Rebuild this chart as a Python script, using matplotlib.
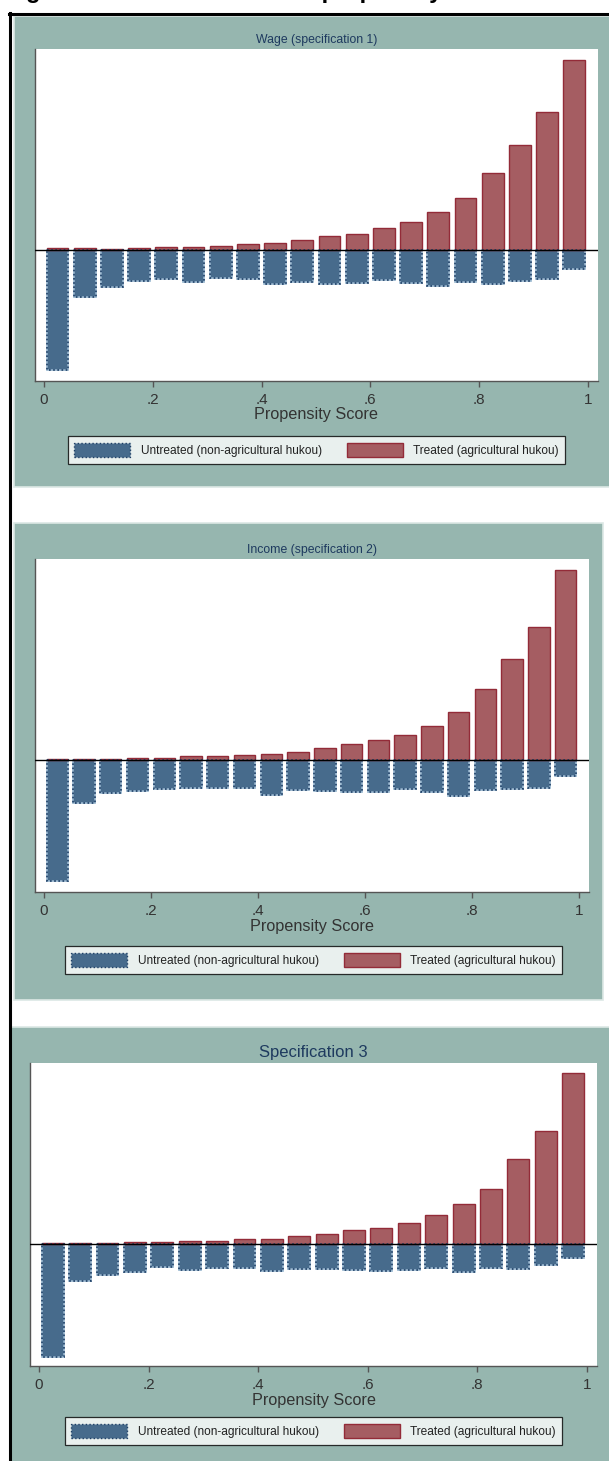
import numpy as np
import matplotlib.pyplot as plt
from matplotlib.patches import Rectangle, Patch

plt.rcParams["font.family"] = ["Liberation Sans", "DejaVu Sans"]

W, H = 609, 1461

# propensity score bins (20 bins of width .05)
score_mid = np.linspace(0.025, 0.975, 20)

# heights (arbitrary frequency units)
wage_treated = [6, 7, 5, 7, 10, 10, 13, 19, 21, 30, 42, 50, 66, 85, 116, 158, 232, 316, 415, 570]
wage_untreated = [360, 140, 109, 93, 86, 95, 83, 85, 100, 94, 100, 98, 90, 99, 108, 95, 100, 93, 85, 55]

income_treated = [5, 5, 5, 8, 6, 13, 14, 17, 20, 26, 38, 50, 60, 77, 104, 145, 214, 302, 398, 571]
income_untreated = [363, 127, 97, 93, 86, 84, 82, 84, 103, 90, 93, 96, 96, 87, 96, 106, 90, 87, 84, 46]

spec3_treated = [4, 3, 4, 5, 7, 8, 10, 14, 16, 23, 29, 41, 47, 64, 88, 119, 164, 254, 338, 512]
spec3_untreated = [338, 110, 92, 83, 68, 77, 71, 72, 80, 75, 76, 79, 80, 77, 71, 84, 71, 74, 64, 42]

titles = ["Wage (specification 1)", "Income (specification 2)", "Specification 3"]
legend_labels = ["Untreated (non-agricultural hukou)", "Treated (agricultural hukou)"]
xtick_vals = [0, 0.2, 0.4, 0.6, 0.8, 1]
xtick_labels = ["0", ".2", ".4", ".6", ".8", "1"]

TEAL = "#96B6AF"
BLUE = "#476B8C"
BLUE_EDGE = "#1E3F66"
BLUE_LIGHT = "#93B3CC"
RED = "#A55D62"
RED_EDGE = "#932B38"
NAVY = "#1E3A5F"
GREY = "#333333"

fig = plt.figure(figsize=(W / 100, H / 100), dpi=100)
fig.patch.set_facecolor("white")


def frac(x0, y0, x1, y1):
    # pixel box (top-left origin) -> figure fraction [l, b, w, h]
    return [x0 / W, 1 - y1 / H, (x1 - x0) / W, (y1 - y0) / H]


def panel(x0, y0, x1, y1):
    l, b, w, h = frac(x0, y0, x1, y1)
    fig.patches.append(Rectangle((l, b), w, h, transform=fig.transFigure,
                                 facecolor=TEAL, edgecolor="#DCE8E5", linewidth=1.2, zorder=-5))


# outer frame
fig.add_artist(plt.Line2D([9.5 / W, 9.5 / W], [0, 1 - 13 / H], transform=fig.transFigure,
                          color="black", linewidth=2.2, zorder=-4))
fig.add_artist(plt.Line2D([8.5 / W, 1], [1 - 14 / H, 1 - 14 / H], transform=fig.transFigure,
                          color="black", linewidth=2.2, zorder=-4))

# cut-off figure caption at the very top (only the lower edge shows)
fig.text(5 / W, 1 + 1.5 / H, "Figure 1: Distribution of the propensity score",
         fontsize=17, fontweight="bold", va="baseline", ha="left", color="black")

panel(14, 16, 612, 487)
panel(14, 523, 603, 1000)
panel(11, 1027, 612, 1465)

specs = [
    dict(treated=wage_treated, untreated=wage_untreated, box=(35, 49, 598, 381),
         ylim=(-392, 604), tsize=8.8, leg=(316.5, 450)),
    dict(treated=income_treated, untreated=income_untreated, box=(35, 559, 589, 892),
         ylim=(-395, 603), tsize=8.8, leg=(313.5, 960)),
    dict(treated=spec3_treated, untreated=spec3_untreated, box=(30, 1063, 597, 1366),
         ylim=(-366, 542), tsize=12, leg=(313.5, 1431)),
]

for title, s in zip(titles, specs):
    ax = fig.add_axes(frac(*s["box"]))
    ax.set_facecolor("white")
    neg = -np.asarray(s["untreated"], dtype=float)
    # untreated: light solid outline under a dotted dark outline
    ax.bar(score_mid, neg, width=0.04, color=BLUE, edgecolor=BLUE_LIGHT, linewidth=1.2, zorder=2)
    ax.bar(score_mid, neg, width=0.04, fill=False, edgecolor=BLUE_EDGE, linewidth=1.2,
           linestyle=(0, (1, 1.5)), zorder=3)
    ax.bar(score_mid, s["treated"], width=0.04, color=RED, edgecolor=RED_EDGE, linewidth=1.0, zorder=2)
    ax.axhline(0, color="black", linewidth=1.0, zorder=4)

    ax.set_xlim(-0.0165, 1.0185)
    ax.set_ylim(*s["ylim"])
    ax.set_yticks([])
    ax.set_xticks(xtick_vals)
    ax.set_xticklabels(xtick_labels)
    ax.tick_params(axis="x", direction="out", length=4, width=1, color="#555555",
                   labelsize=11, labelcolor=GREY, pad=4.5)
    for side in ["top", "right"]:
        ax.spines[side].set_visible(False)
    for side in ["left", "bottom"]:
        ax.spines[side].set_color("#555555")
        ax.spines[side].set_linewidth(1.0)
    ax.set_xlabel("Propensity Score", fontsize=11.7, color=GREY, labelpad=0.5)
    ax.set_title(title, fontsize=s["tsize"], color=NAVY, pad=4)

    handles = [
        Patch(facecolor=BLUE, edgecolor=BLUE_EDGE, linestyle=":", linewidth=1.0, label=legend_labels[0]),
        Patch(facecolor=RED, edgecolor=RED_EDGE, linewidth=1.0, label=legend_labels[1]),
    ]
    cx, cy = s["leg"]
    leg = ax.legend(handles=handles, ncol=2, loc="center",
                    bbox_to_anchor=(cx / W, 1 - cy / H), bbox_transform=fig.transFigure,
                    frameon=True, fancybox=False, edgecolor="black", fontsize=8.6,
                    handlelength=4.7, handleheight=1.5, handletextpad=0.85,
                    columnspacing=2.1, borderpad=0.55)
    leg.get_frame().set_linewidth(0.9)
    for t in leg.get_texts():
        t.set_color("#222222")

fig.savefig("out.png", dpi=100, facecolor="white")
